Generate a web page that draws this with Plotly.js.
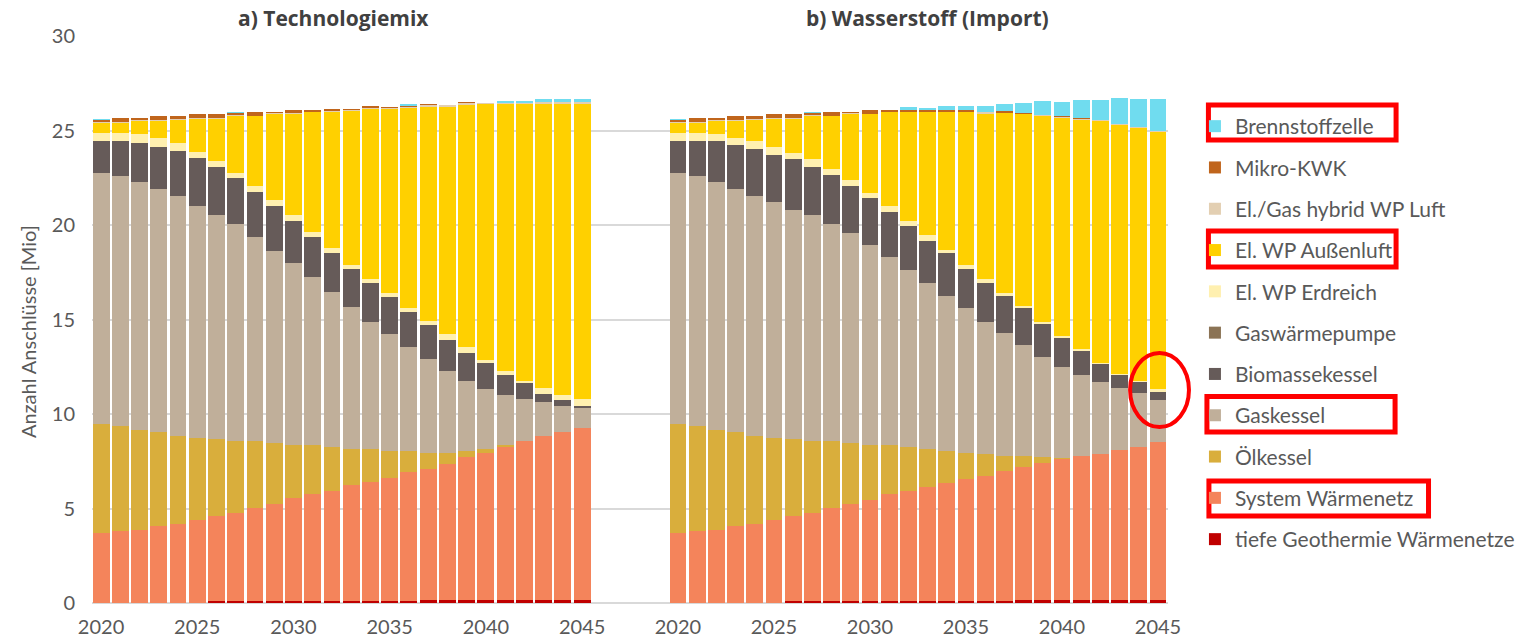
<!DOCTYPE html>
<html>
<head>
<meta charset="utf-8">
<script src="https://cdn.plot.ly/plotly-3.0.1.min.js"></script>
<style>html,body{margin:0;padding:0;background:#fff;}#chart{width:1532px;height:642px;}</style>
</head>
<body>
<div id="chart"></div>
<script>
// ---------- DATA ----------
const years = [2020,2021,2022,2023,2024,2025,2026,2027,2028,2029,2030,2031,2032,2033,2034,2035,2036,2037,2038,2039,2040,2041,2042,2043,2044,2045];

const seriesNames = ["tiefe Geothermie Wärmenetze","System Wärmenetz","Ölkessel","Gaskessel","Biomassekessel","Gaswärmepumpe","El. WP Erdreich","El. WP Außenluft","El./Gas hybrid WP Luft","Mikro-KWK","Brennstoffzelle"];

// a) Technologiemix  [Mio]
const a_geo  = [0,0,0,0,0,0,0.1,0.1,0.1,0.1,0.1,0.1,0.1,0.1,0.1,0.1,0.1,0.18,0.18,0.18,0.18,0.18,0.18,0.18,0.18,0.18];
const a_netz = [3.72,3.79,3.86,4.07,4.20,4.39,4.50,4.68,4.94,5.16,5.47,5.67,5.83,6.13,6.32,6.53,6.81,6.91,7.19,7.54,7.77,8.09,8.41,8.67,8.85,9.08];
const a_oel  = [5.75,5.58,5.31,4.96,4.65,4.36,4.09,3.79,3.53,3.22,2.81,2.61,2.34,1.94,1.75,1.43,1.15,0.86,0.58,0.34,0.22,0.11,0,0,0,0];
const a_gas  = [13.30,13.22,13.11,12.86,12.67,12.27,11.86,11.47,10.81,10.14,9.63,8.85,8.20,7.51,6.72,6.16,5.49,4.98,4.33,3.70,3.15,2.61,2.19,1.77,1.39,1.04];
const a_bio  = [1.67,1.85,2.06,2.24,2.40,2.52,2.52,2.46,2.38,2.38,2.22,2.15,2.03,2.01,2.04,1.95,1.85,1.76,1.64,1.49,1.36,1.06,0.84,0.45,0.34,0.14];
const a_gwp  = [0,0,0,0,0,0,0,0,0,0,0,0,0,0,0,0,0,0,0,0,0,0,0,0,0,0];
const a_erd  = [0.45,0.45,0.46,0.47,0.44,0.30,0.30,0.25,0.30,0.32,0.32,0.27,0.26,0.19,0.19,0.21,0.23,0.21,0.30,0.28,0.18,0.23,0.13,0.32,0.23,0.35];
const a_aul  = [0.52,0.52,0.70,0.90,1.21,1.79,2.26,3.02,3.69,4.54,5.31,6.31,7.24,8.15,9.00,9.75,10.56,11.36,12.04,12.82,13.52,14.10,14.63,15.03,15.43,15.63];
const a_hyb  = [0.03,0.03,0.03,0.03,0.03,0.03,0.03,0.03,0.03,0.04,0.04,0.04,0.05,0.05,0.06,0.06,0.07,0.07,0.08,0.08,0.08,0.08,0.08,0.09,0.09,0.09];
const a_kwk  = [0.12,0.22,0.12,0.25,0.18,0.2,0.2,0.1,0.18,0.08,0.2,0.08,0.1,0.08,0.12,0.08,0.03,0.08,0.03,0.1,0.02,0.02,0.02,0.02,0.02,0.02];
const a_bz   = [0.07,0,0,0,0,0,0,0.1,0,0,0,0,0,0,0,0,0.12,0,0,0,0,0.1,0.1,0.12,0.12,0.12];

// b) Wasserstoff (Import)  [Mio]
const b_geo  = [0,0,0,0,0,0,0.1,0.1,0.1,0.1,0.1,0.1,0.1,0.1,0.1,0.1,0.1,0.1,0.18,0.18,0.18,0.18,0.18,0.18,0.18,0.18];
const b_netz = [3.72,3.79,3.86,4.07,4.20,4.39,4.50,4.68,4.94,5.16,5.35,5.67,5.83,6.04,6.23,6.44,6.64,6.88,7.02,7.21,7.44,7.60,7.70,7.90,8.09,8.32];
const b_oel  = [5.75,5.58,5.31,4.96,4.65,4.36,4.09,3.79,3.53,3.22,2.93,2.61,2.34,2.03,1.73,1.41,1.13,0.80,0.58,0.32,0.05,0,0,0,0,0];
const b_gas  = [13.30,13.22,13.11,12.86,12.67,12.49,12.12,11.98,11.47,11.11,10.58,9.94,9.35,8.74,8.20,7.64,7.02,6.52,5.87,5.32,4.80,4.28,3.81,3.32,2.82,2.24];
const b_bio  = [1.67,1.85,2.16,2.36,2.52,2.48,2.66,2.52,2.61,2.49,2.47,2.37,2.33,2.26,2.24,2.08,2.02,1.94,1.94,1.73,1.53,1.29,0.96,0.65,0.60,0.44];
const b_gwp  = [0,0,0,0,0,0,0,0,0,0,0,0,0,0,0,0,0,0,0,0,0,0,0,0,0,0];
const b_erd  = [0.45,0.45,0.36,0.35,0.39,0.39,0.36,0.40,0.31,0.30,0.25,0.32,0.28,0.30,0.18,0.21,0.21,0.14,0.12,0.11,0.13,0.11,0.07,0.07,0.07,0.13];
const b_aul  = [0.52,0.52,0.70,0.90,1.14,1.52,1.80,2.30,2.79,3.48,4.18,4.95,5.73,6.49,7.28,8.08,8.75,9.53,10.15,10.90,11.52,12.10,12.78,13.19,13.37,13.59];
const b_hyb  = [0.03,0.03,0.03,0.03,0.03,0.03,0.03,0.03,0.03,0.05,0.03,0.03,0.03,0.03,0.03,0.03,0.1,0.03,0.03,0.03,0.09,0.03,0.03,0.03,0.04,0.05];
const b_kwk  = [0.1,0.22,0.15,0.25,0.18,0.2,0.2,0.1,0.18,0.06,0.2,0.1,0.12,0.12,0.12,0.12,0.02,0.07,0.02,0.02,0.02,0.09,0.02,0.02,0.02,0.02];
const b_bz   = [0.05,0,0,0,0,0,0,0.1,0,0,0,0,0.11,0.09,0.19,0.19,0.30,0.41,0.53,0.72,0.76,0.92,1.06,1.34,1.48,1.69];

const panelTitles = ["a) Technologiemix","b) Wasserstoff (Import)"];
const yTitle = "Anzahl Anschlüsse [Mio]";
const xTicks = [2020,2025,2030,2035,2040,2045];
const yTicks = [0,5,10,15,20,25,30];

// ---------- STYLE ----------
const seriesColors = ["#c00000","#f4845b","#d9ae3c","#c0af9a","#665b59","#8b7355","#fff0b0","#ffd000","#e3cfb2","#c0651c","#70dcef"];
const FONT = "Lato, 'Open Sans', sans-serif";
const GREY = "#595959";

const panelA = [a_geo,a_netz,a_oel,a_gas,a_bio,a_gwp,a_erd,a_aul,a_hyb,a_kwk,a_bz];
const panelB = [b_geo,b_netz,b_oel,b_gas,b_bio,b_gwp,b_erd,b_aul,b_hyb,b_kwk,b_bz];

const traces = [];
seriesNames.forEach((nm,i)=>{
  traces.push({type:'bar', name:nm, x:years, y:panelA[i], xaxis:'x', yaxis:'y',
    marker:{color:seriesColors[i], line:{width:0}}, legendgroup:nm, legendrank:100-i, showlegend:true,
    hovertemplate:nm+' %{x}: %{y}<extra></extra>'});
});
seriesNames.forEach((nm,i)=>{
  traces.push({type:'bar', name:nm, x:years, y:panelB[i], xaxis:'x2', yaxis:'y',
    marker:{color:seriesColors[i], line:{width:0}}, legendgroup:nm, legendrank:100-i, showlegend:false,
    hovertemplate:nm+' %{x}: %{y}<extra></extra>'});
});

// pixel helpers for the plot area (l=92, t=36, w=1078, h=567)
const PL=92, PT=36, PW=1078, PH=567;
const px = x => (x-PL)/PW;
const py = y => (PT+PH-y)/PH;

const split = px(626);

const layout = {
  width:1532, height:642,
  margin:{l:PL, r:1532-PL-PW, t:PT, b:642-PT-PH, pad:0},
  paper_bgcolor:'#fff', plot_bgcolor:'#fff',
  font:{family:FONT, color:GREY, size:20},
  barmode:'stack', bargap:0.12,
  showlegend:true,
  legend:{x:px(1197), xanchor:'left', y:py(106), yanchor:'top',
    traceorder:'grouped', tracegroupgap:11, itemwidth:30,
    font:{family:FONT, size:21, color:GREY}, bgcolor:'rgba(0,0,0,0)'},
  xaxis:{domain:[0,split], range:[2019.53, 2019.53+534/19.28], tickvals:xTicks,
    showgrid:false, zeroline:false, showline:false, ticks:'outside', ticklen:6, tickcolor:'rgba(0,0,0,0)',
    tickfont:{size:20, color:GREY}, fixedrange:true},
  xaxis2:{domain:[split,1], range:[2019.01-(660-626)/19.24, 2045.52], tickvals:xTicks, anchor:'y',
    showgrid:false, zeroline:false, showline:false, ticks:'outside', ticklen:6, tickcolor:'rgba(0,0,0,0)',
    tickfont:{size:20, color:GREY}, fixedrange:true},
  yaxis:{range:[0,30], tickvals:yTicks, gridcolor:'#d9d9d9', gridwidth:2,
    zeroline:true, zerolinecolor:'#d9d9d9', zerolinewidth:2,
    ticks:'outside', ticklen:12, tickcolor:'rgba(0,0,0,0)',
    tickfont:{size:20, color:GREY}},
  annotations:[
    {text:yTitle, xref:'paper', yref:'paper', x:px(28), y:py(332), xanchor:'center', yanchor:'middle', textangle:-90, showarrow:false, font:{size:20, color:GREY, family:FONT}},
    {text:'<b>'+panelTitles[0]+'</b>', xref:'paper', yref:'paper', x:px(334), y:py(18), xanchor:'center', yanchor:'middle', showarrow:false, font:{size:21, color:'#404040', family:"'Open Sans', Lato, sans-serif"}},
    {text:'<b>'+panelTitles[1]+'</b>', xref:'paper', yref:'paper', x:px(929), y:py(18), xanchor:'center', yanchor:'middle', showarrow:false, font:{size:21, color:'#404040', family:"'Open Sans', Lato, sans-serif"}}
  ],
  shapes:[
    {type:'rect', xref:'paper', yref:'paper', x0:px(1210.5), x1:px(1398.5), y0:py(105), y1:py(140), line:{color:'#ff0000', width:5}, layer:'above'},
    {type:'rect', xref:'paper', yref:'paper', x0:px(1210.5), x1:px(1398.5), y0:py(231), y1:py(267), line:{color:'#ff0000', width:5}, layer:'above'},
    {type:'rect', xref:'paper', yref:'paper', x0:px(1209), x1:px(1397.5), y0:py(396.5), y1:py(432), line:{color:'#ff0000', width:5}, layer:'above'},
    {type:'rect', xref:'paper', yref:'paper', x0:px(1211), x1:px(1431), y0:py(481), y1:py(516), line:{color:'#ff0000', width:5}, layer:'above'},
    {type:'circle', xref:'paper', yref:'paper', x0:px(1132), x1:px(1191), y0:py(353), y1:py(427), line:{color:'#ff0000', width:4}, layer:'above'}
  ]
};

Plotly.newPlot('chart', traces, layout, {displayModeBar:false, staticPlot:true});
</script>
</body>
</html>
